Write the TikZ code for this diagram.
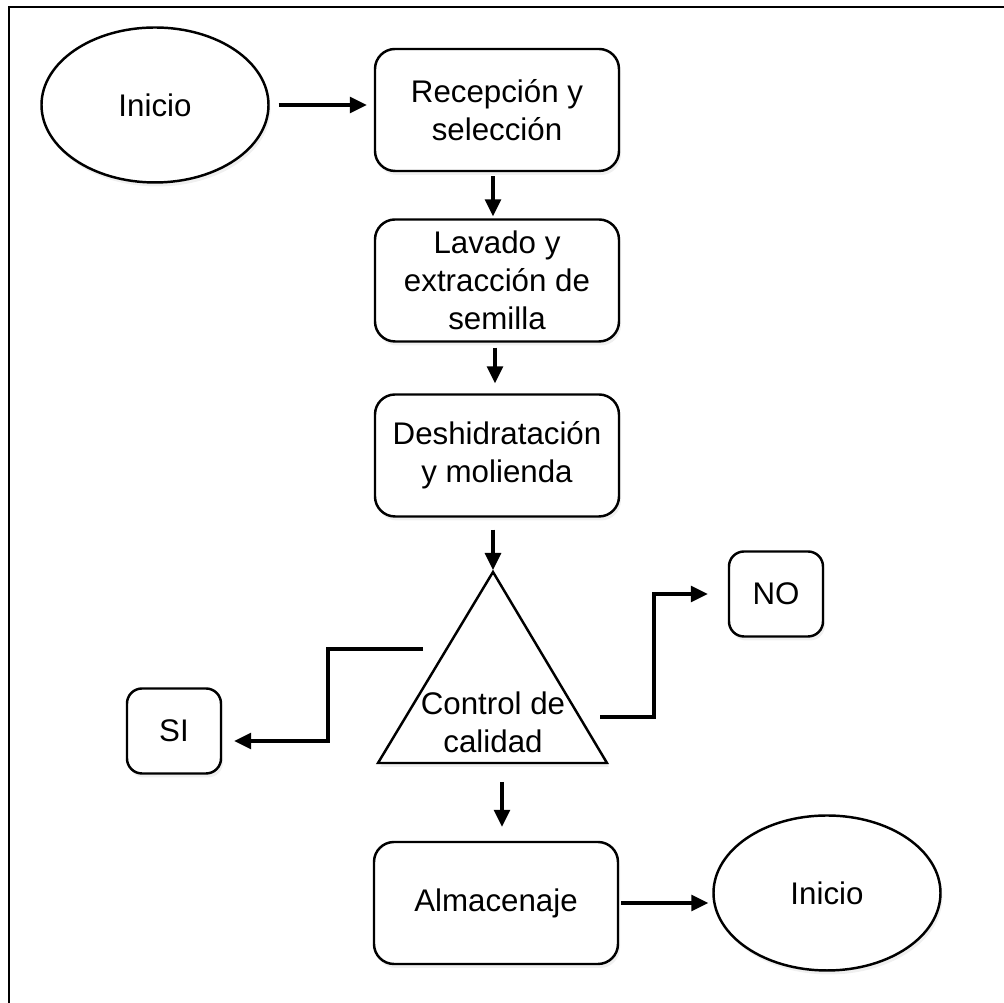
\documentclass[tikz,border=0pt]{standalone}
\usepackage{fontspec}
\setmainfont{Liberation Sans}
\usetikzlibrary{arrows.meta,shapes.geometric,shadows}
\begin{document}
\begin{tikzpicture}[
    every node/.style={font=\fontsize{8.9}{10.8}\selectfont, align=center, inner sep=0pt},
    sombra/.style={drop shadow={opacity=0.12, shadow xshift=0.02cm, shadow yshift=-0.04cm}},
    caja/.style={draw, line width=0.7pt, rounded corners=0.2cm, fill=white, minimum width=2.44cm, minimum height=1.22cm, sombra},
    cajita/.style={caja, rounded corners=0.15cm, minimum width=0.94cm, minimum height=0.85cm},
    elipse/.style={draw, ellipse, line width=0.7pt, fill=white, minimum width=2.27cm, minimum height=1.55cm, sombra},
    flecha/.style={-{Triangle[length=0.17cm,width=0.16cm]}, line width=0.9pt}]
    \useasboundingbox (0,0) rectangle (10.04,-10.03);
    \draw[line width=0.8pt] (0.09,-0.07) rectangle (10.6,-10.6);
    \node[elipse] (ini) at (1.55,-1.05) {Inicio};
    \node[caja] (rec) at (4.97,-1.10) {Recepción y\\selección};
    \node[caja] (lav) at (4.97,-2.805) {Lavado y\\extracción de\\semilla};
    \node[caja] (des) at (4.97,-4.555) {Deshidratación\\y molienda};
    \coordinate (ctop) at (4.93,-5.72);
    \coordinate (cizq) at (3.78,-7.63);
    \coordinate (cder) at (6.07,-7.63);
    \coordinate (cbase) at (5.02,-7.63);
    \draw[line width=0.7pt, fill=white, sombra] (ctop) -- (cder) -- (cizq) -- cycle;
    \node (ctrl) at (4.93,-7.22) {Control de\\calidad};
    \node[cajita] (si) at (1.74,-7.31) {SI};
    \node[cajita] (no) at (7.76,-5.94) {NO};
    \node[caja] (alm) at (4.96,-9.03) {Almacenaje};
    \node[elipse] (fin) at (8.27,-8.93) {Inicio};
    \coordinate (sisal) at (4.23,-6.49);
    \coordinate (nosal) at (6.00,-7.17);
    \draw[flecha, shorten <=0.09cm, shorten >=0.07cm] (ini.east) -- (ini.east -| rec.west);
    \draw[flecha, shorten <=0.04cm, shorten >=0.02cm] ([xshift=-0.04cm]rec.south) -- ([xshift=-0.04cm]lav.north);
    \draw[flecha, shorten <=0.05cm, shorten >=0.1cm] ([xshift=-0.02cm]lav.south) -- ([xshift=-0.02cm]des.north);
    \draw[flecha, shorten <=0.12cm, shorten >=0.02cm] (des.south -| ctop) -- (ctop);
    \draw[flecha, shorten <=0.19cm, shorten >=0.14cm] (cbase) -- (cbase |- alm.north);
    \draw[flecha, shorten >=0.12cm] (sisal) -- ++(-0.95,0) |- ([yshift=-0.1cm]si.east);
    \draw[flecha, shorten >=0.2cm] (nosal) -- ++(0.54,0) |- (no.west);
    \draw[flecha, shorten <=0.02cm, shorten >=0.04cm] (alm.east) -- (alm.east -| fin.west);
\end{tikzpicture}
\end{document}
